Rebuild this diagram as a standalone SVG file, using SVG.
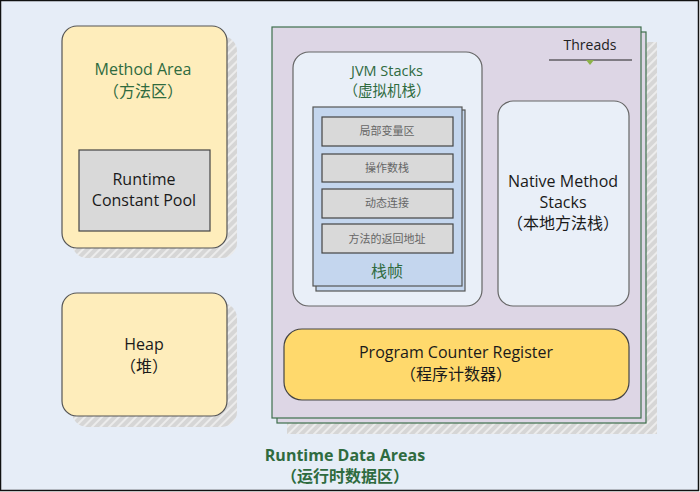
<svg xmlns="http://www.w3.org/2000/svg" width="700" height="492" viewBox="0 0 700 492">
<defs>
<pattern id="hatch" width="6" height="6" patternUnits="userSpaceOnUse" patternTransform="rotate(45)">
<rect width="6" height="6" fill="#D6D6D6"/>
<rect x="0" y="0" width="2" height="6" fill="#ECECEC"/>
</pattern>
<style>
text{font-family:"Open Sans","Noto Sans CJK SC",sans-serif;text-anchor:middle}
.lbl{font-size:16px;fill:#1a1a1a}
.grn{font-size:16px;fill:#2F6B3F}
.sm{font-size:11px;fill:#666}
.yel{fill:#FEEDBB;stroke:#555;stroke-width:1.2}
.gray{fill:#D9D9D9;stroke:#444;stroke-width:1.2}
.pur{fill:#DDD6E5;stroke:#3F6E4C;stroke-width:1.2}
.wht{fill:#E9EFF8;stroke:#666;stroke-width:1.2}
.blu{fill:#C4D6EE;stroke:#555;stroke-width:1.2}
.shd{fill:url(#hatch)}
</style>
</defs>
<rect x="0.5" y="0.5" width="698" height="490" fill="#E6EDF7" stroke="#111" stroke-width="1.5"/>

<g id="method-area">
<rect class="shd" x="72" y="36" width="165" height="222" rx="15"/>
<rect class="yel" x="62" y="26" width="165" height="222" rx="15"/>
<text class="grn" x="143" y="75">Method Area</text>
<text class="grn" x="143" y="97">（方法区）</text>
</g>
<g id="runtime-constant-pool">
<rect class="gray" x="79" y="150" width="131" height="81"/>
<text class="lbl" x="144" y="185">Runtime</text>
<text class="lbl" x="144" y="206">Constant Pool</text>
</g>

<g id="heap">
<rect class="shd" x="72" y="303" width="165" height="124" rx="15"/>
<rect class="yel" x="62" y="293" width="165" height="123" rx="15"/>
<text class="lbl" x="144" y="350">Heap</text>
<text class="lbl" x="144" y="372">（堆）</text>
</g>

<g id="runtime-data-areas">
<rect class="shd" x="287" y="42" width="370" height="392"/>
<rect class="pur" x="277" y="32" width="369" height="391"/>
<rect class="pur" x="272" y="27" width="369" height="391"/>
<text x="345" y="461" style="font-size:16px;font-weight:bold;fill:#2F6B3F">Runtime Data Areas</text>
<text x="345" y="482" style="font-size:16px;font-weight:bold;fill:#2F6B3F">（运行时数据区）</text>
</g>

<g id="threads">
<text x="590" y="50" style="font-size:14px;fill:#222">Threads</text>
<line x1="549" y1="60" x2="632" y2="60" stroke="#222" stroke-width="1"/>
<polygon points="586,60 594,60 590,65" fill="#8DB24A"/>
</g>

<g id="jvm-stacks">
<rect class="wht" x="293" y="52" width="189" height="254" rx="16"/>
<text class="grn" x="387" y="76" style="font-size:14.5px">JVM Stacks</text>
<text class="grn" x="387" y="96" style="font-size:14.5px">（虚拟机栈）</text>
</g>

<g id="stack-frame">
<rect class="blu" x="316" y="110" width="149" height="181"/>
<rect class="blu" x="313" y="107" width="149" height="179"/>
<text x="387" y="277" style="font-size:16px;fill:#2F6B3F">栈帧</text>
</g>
<g id="local-vars">
<rect class="gray" x="322" y="117" width="131" height="29"/>
<text class="sm" x="387" y="135">局部变量区</text>
</g>
<g id="operand-stack">
<rect class="gray" x="322" y="154" width="131" height="28"/>
<text class="sm" x="387" y="172">操作数栈</text>
</g>
<g id="dynamic-link">
<rect class="gray" x="322" y="189" width="131" height="29"/>
<text class="sm" x="387" y="207">动态连接</text>
</g>
<g id="return-address">
<rect class="gray" x="322" y="224" width="131" height="29"/>
<text class="sm" x="387" y="243">方法的返回地址</text>
</g>

<g id="native-method-stacks">
<rect class="wht" x="498" y="101" width="131" height="205" rx="15"/>
<text class="lbl" x="563" y="187">Native Method</text>
<text class="lbl" x="563" y="208">Stacks</text>
<text class="lbl" x="563" y="229">（本地方法栈）</text>
</g>

<g id="program-counter">
<rect x="284" y="329" width="345" height="71" rx="18" fill="#FFD96C" stroke="#444" stroke-width="1.2"/>
<text class="lbl" x="456" y="358">Program Counter Register</text>
<text class="lbl" x="456" y="380">（程序计数器）</text>
</g>

<g id="connectors"></g>
</svg>
